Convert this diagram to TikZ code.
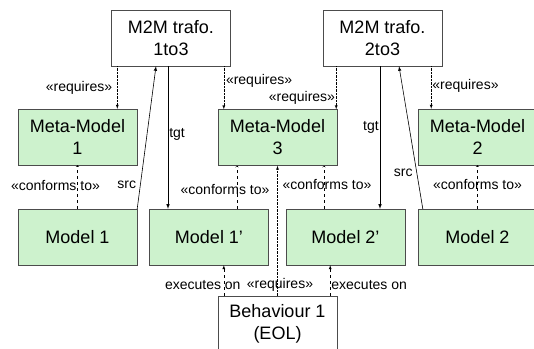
\documentclass[tikz,border=0pt]{standalone}
\usepackage{fontspec}
\setmainfont{Liberation Sans}
\usetikzlibrary{positioning,calc}
\definecolor{mdlgreen}{RGB}{205,242,205}

\begin{document}
\begin{tikzpicture}[x=1pt,y=-1pt]
  \tikzstyle{model}=[rectangle,draw=black!70,fill=mdlgreen,minimum width=119pt,minimum height=56pt,inner sep=0pt,align=center,font=\fontsize{18}{22}\selectfont]
  \tikzstyle{trafo}=[model,fill=white]
  \tikzstyle{lbl}=[font=\fontsize{14}{16}\selectfont,inner sep=1pt]
  \tikzstyle{req}=[densely dotted,-latex]
  \tikzstyle{conf}=[dashed,->]
  \tikzstyle{exec}=[dashed,-latex]
  \tikzstyle{trans}=[semithick,-latex]

  \useasboundingbox (0,0) rectangle (534,348);
  \draw (0,0) node (c){};

  \draw (c)++(171,38) node[trafo] (T1){M2M trafo.\\1to3};
  \draw (c)++(382.5,38) node[trafo] (T2){M2M trafo.\\2to3};

  \draw (c)++(77.5,137) node[model] (MM1){Meta-Model\\1};
  \draw (c)++(277.5,137.5) node[model] (MM3){Meta-Model\\3};
  \draw (c)++(477.5,137) node[model] (MM2){Meta-Model\\2};

  \draw (c)++(77.5,237) node[model] (M1){Model 1};
  \draw (c)++(209,237) node[model] (M1p){Model 1'};
  \draw (c)++(345.5,237) node[model] (M2p){Model 2'};
  \draw (c)++(477.5,237) node[model] (M2){Model 2};

  \draw (c)++(277.5,324) node[trafo] (B){Behaviour 1\\(EOL)};

  % requires
  \draw[req] ([xshift=6pt]T1.south west) -- ([xshift=6pt]T1.south west |- MM1.north) node[lbl,midway,left=4pt]{«requires»};
  \draw[req] ([xshift=6pt]MM3.north west |- T1.south) -- ([xshift=6pt]MM3.north west) node[lbl,pos=0.33,right=1pt]{«requires»};
  \draw[req] ([xshift=-1pt]MM3.north east |- T2.south) -- ([xshift=-1pt]MM3.north east) node[lbl,pos=0.74,left]{«requires»};
  \draw[req] ([xshift=-11pt]T2.south east) -- ([xshift=-11pt]T2.south east |- MM2.north) node[lbl,pos=0.47,right]{«requires»};

  % transformations
  \draw[trans] ([xshift=-3pt]T1.south) -- ([xshift=-3pt]T1.south |- M1p.north) node[lbl,pos=0.48,right]{tgt};
  \draw[trans] ([xshift=-2.5pt]T2.south) -- ([xshift=-2.5pt]T2.south |- M2p.north) node[lbl,pos=0.43,left]{tgt};
  \draw[trans] (M1.north east) -- ([xshift=-15pt]T1.south) node[lbl,pos=0.17,left=3pt]{src};
  \draw[trans] ([xshift=5pt]M2.north west) -- ([xshift=16.5pt]T2.south) node[lbl,pos=0.25,left=3pt]{src};

  % conforms to
  \draw[conf] (M1.north) -- (MM1.south) node[lbl,midway,xshift=-22pt,yshift=2pt]{«conforms to»};
  \draw[conf] ([xshift=28pt]M1p.north) -- ([xshift=28pt]M1p.north |- MM3.south) node[lbl,pos=0.44,xshift=-12pt]{«conforms to»};
  \draw[conf] ([xshift=-21.5pt]M2p.north) -- ([xshift=-21.5pt]M2p.north |- MM3.south) node[lbl,pos=0.56,xshift=3pt]{«conforms to»};
  \draw[conf] (M2.north) -- (MM2.south) node[lbl,pos=0.56]{«conforms to»};

  % behaviour
  \draw[exec] ([xshift=6pt]B.north west) -- ([xshift=6pt]B.north west |- M1p.south) node[lbl,pos=0.35,xshift=-21pt]{executes on};
  \draw[req] (B.north) -- (MM3.south) node[lbl,pos=0.085,xshift=2.5pt]{«requires»};
  \draw[exec] ([xshift=-7pt]B.north east) -- ([xshift=-7pt]B.north east |- M2p.south) node[lbl,pos=0.35,right]{executes on};
\end{tikzpicture}
\end{document}
